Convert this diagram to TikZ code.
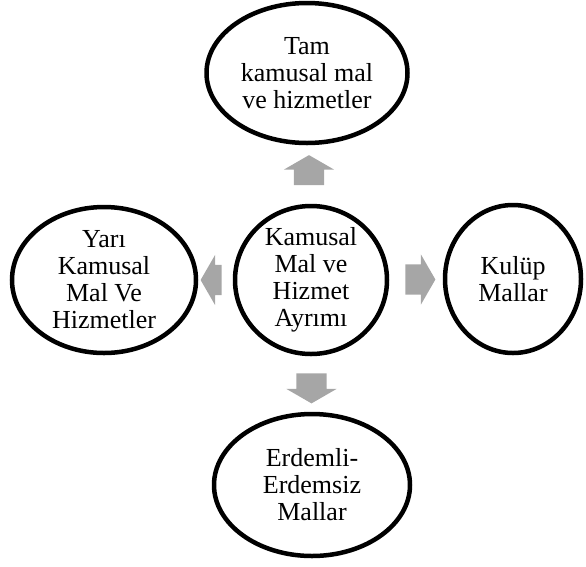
\documentclass[tikz,border=0pt]{standalone}
\usepackage{fontspec}
\setmainfont{Liberation Serif}
\usetikzlibrary{shapes.geometric,shapes.arrows,calc}
\definecolor{arrowgray}{HTML}{A6A6A6}

\tikzset{
  goods/.style={draw=black, line width=4.5pt, ellipse, inner sep=0pt,
    align=center, font=\fontsize{26}{27}\selectfont},
  flow/.style={single arrow, fill=arrowgray, draw=none,
    inner xsep=0pt, inner ysep=15pt,
    minimum height=30pt, minimum width=50pt,
    single arrow head extend=10pt, single arrow tip angle=120}
}

\begin{document}
\begin{tikzpicture}[x=1pt, y=-1pt]
\useasboundingbox (0,0) rectangle (586,566);

% centre and the four kinds of goods
\node[goods, minimum width=152pt, minimum height=146pt] (hub) at (311,280)
  {Kamusal\\Mal ve\\Hizmet\\Ayrımı};
\node[goods, minimum width=201pt, minimum height=140pt] (pure) at (307,73)
  {Tam\\kamusal mal\\ve hizmetler};
\node[goods, minimum width=184pt, minimum height=146pt] (semi) at (104,280)
  {Yarı\\Kamusal\\Mal Ve\\Hizmetler};
\node[goods, minimum width=136pt, minimum height=148pt] (club) at (513,279)
  {Kulüp\\Mallar};
\node[goods, minimum width=196pt, minimum height=142pt] (merit) at (312,485)
  {Erdemli-\\Erdemsiz\\Mallar};

% block arrows between them
\node[flow, rotate=90] (up) at ($(hub.north)!0.5!(pure.south)$) {};
\node[flow, rotate=180, minimum height=21pt] (left) at ($(hub.west)!0.5!(semi.east)$) {};
\node[flow] (right) at ($(hub.east)!0.5!(club.west)$) {};
\node[flow, rotate=-90] (down) at ($(hub.south)!0.5!(merit.north)$) {};

\end{tikzpicture}
\end{document}
